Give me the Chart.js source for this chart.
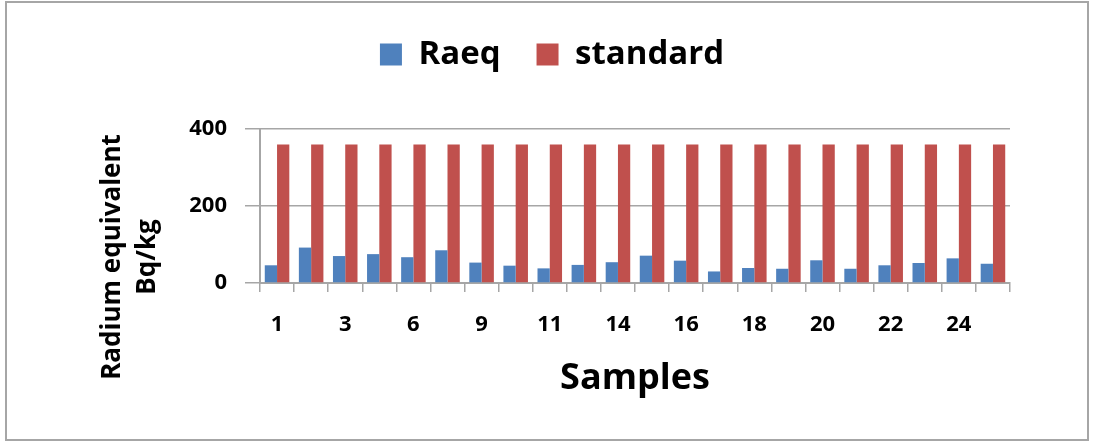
<!DOCTYPE html>
<html lang="en">
<head>
  <meta charset="UTF-8">
  <title>Radium equivalent</title>
  <script src="https://cdn.jsdelivr.net/npm/chart.js"></script>
  <style>
    html, body { margin: 0; padding: 0; background: #fff; }
    #wrap { position: relative; width: 1096px; height: 444px; }
  </style>
</head>
<body>
  <div id="wrap"><canvas id="grafico"></canvas></div>

  <script>
    const samples = ['1', '2', '3', '5', '6', '8', '9', '10', '11', '13', '14',
                     '15', '16', '17', '18', '19', '20', '21', '22', '23', '24', '25'];
    const raeq = [46, 92, 70, 75, 67, 85, 53, 45, 38, 47, 54,
                  71, 58, 30, 39, 37, 59, 37, 46, 52, 64, 50];
    const standard = [360, 360, 360, 360, 360, 360, 360, 360, 360, 360, 360,
                      360, 360, 360, 360, 360, 360, 360, 360, 360, 360, 360];
    const yTicks = [0, 200, 400];
    const yTitle = ['Radium equivalent', 'Bq/kg'];

    const fontFam = "'Open Sans', 'DejaVu Sans', sans-serif";

    // frame round the picture + the two-line y title (sits lower than the axis centre)
    const frame = {
      id: 'frame',
      beforeDraw(chart) {
        const ctx = chart.ctx;
        ctx.save();
        ctx.fillStyle = '#fff';
        ctx.fillRect(0, 0, chart.width, chart.height);
        ctx.restore();
      },
      afterDraw(chart) {
        const ctx = chart.ctx;
        ctx.save();
        ctx.strokeStyle = '#a6a6a6';
        ctx.lineWidth = 2;
        ctx.strokeRect(6, 2, 1082, 438);
        ctx.translate(0, 257);
        ctx.rotate(-Math.PI / 2);
        ctx.fillStyle = '#000';
        ctx.font = "bold 26px " + fontFam;
        ctx.textAlign = 'center';
        ctx.textBaseline = 'middle';
        ctx.fillText(yTitle[0], 0, 113);
        ctx.fillText(yTitle[1], 0, 148);
        ctx.restore();
      }
    };

    const legendGap = {
      id: 'legendGap',
      beforeInit(chart) {
        const fit = chart.legend.fit;
        chart.legend.fit = function () {
          fit.bind(chart.legend)();
          this.height += 48;
        };
      }
    };

    new Chart(document.getElementById('grafico'), {
      type: 'bar',
      data: {
        labels: samples,
        datasets: [
          { label: 'Raeq', data: raeq, backgroundColor: '#4F81BD',
            categoryPercentage: 0.72, barPercentage: 1.0 },
          { label: 'standard', data: standard, backgroundColor: '#C0504D',
            categoryPercentage: 0.72, barPercentage: 1.0 }
        ]
      },
      options: {
        responsive: true,
        maintainAspectRatio: false,
        animation: false,
        layout: { padding: { left: 94, right: 86, top: 2, bottom: 0 } },
        plugins: {
          legend: {
            position: 'top',
            labels: {
              boxWidth: 22, boxHeight: 22, padding: 36, color: '#000',
              font: { family: fontFam, weight: 'bold', size: 33 }
            }
          },
          tooltip: { enabled: false }
        },
        scales: {
          x: {
            grid: { offset: true, drawOnChartArea: false, tickLength: 9, color: '#a6a6a6', lineWidth: 1.5 },
            border: { color: '#a6a6a6', width: 2 },
            ticks: {
              autoSkip: false, maxRotation: 0, color: '#000', padding: 20,
              font: { family: fontFam, weight: 'bold', size: 22 },
              callback: (v, i) => (i % 2 === 0 ? samples[i] : '')
            },
            title: {
              display: true, text: 'Samples', color: '#000',
              font: { family: fontFam, weight: 'bold', size: 36 },
              padding: { top: 0, bottom: 44 }
            },
            afterFit: s => { s.height = 161; }
          },
          y: {
            min: 0, max: 400,
            afterBuildTicks: s => { s.ticks = yTicks.map(v => ({ value: v })); },
            grid: { color: '#a6a6a6', lineWidth: 1.5, tickLength: 15 },
            border: { color: '#a6a6a6', width: 2 },
            ticks: {
              color: '#000', padding: 18,
              font: { family: fontFam, weight: 'bold', size: 22 }
            },
            afterFit: s => { s.width = 166; }
          }
        }
      },
      plugins: [frame, legendGap]
    });
  </script>
</body>
</html>
